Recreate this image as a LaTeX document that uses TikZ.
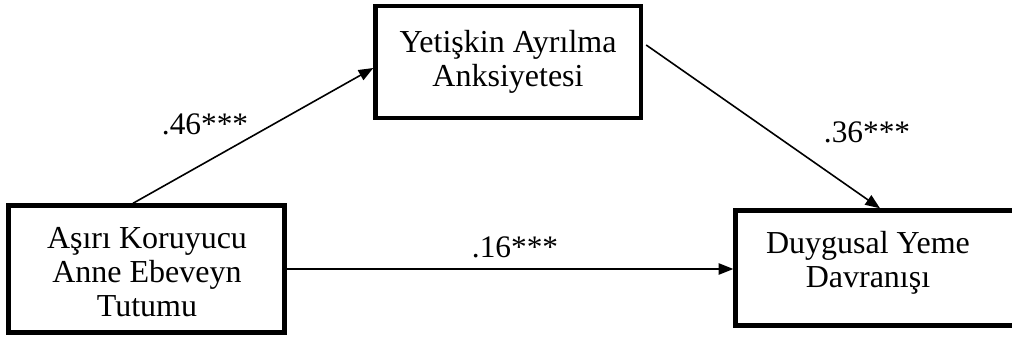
\documentclass[tikz,border=0pt]{standalone}
\usepackage{fontspec}
\setmainfont{Liberation Serif}
\usetikzlibrary{arrows.meta,calc}
\begin{document}
\begin{tikzpicture}[x=0.75pt,y=-0.75pt,
  box/.style={draw=black,line width=3.3pt,inner sep=0pt},
  txt/.style={inner sep=0pt,align=center,font=\fontsize{24}{25.5}\selectfont},
  lab/.style={inner sep=0pt,font=\fontsize{23.5}{25.5}\selectfont},
  conn/.style={line width=1.2pt,-{Triangle[length=11pt,width=8.5pt]}}]
\useasboundingbox (0,0) rectangle (1012,338);
% boxes
\node[box,minimum width=207pt,minimum height=95.25pt] (L) at (146.5,269) {};
\node[box,minimum width=199.1pt,minimum height=84pt] (T) at (508.25,62) {};
\node[box,minimum width=213pt,minimum height=86.25pt] (R) at (877.5,268) {};
% texts
\node[txt,anchor=north] (Ltxt) at (147,227) {Aşırı Koruyucu\\Anne Ebeveyn\\Tutumu};
\node[txt,anchor=north] (Ttxt) at (508,30) {Yetişkin Ayrılma\\Anksiyetesi};
\node[txt,anchor=north] (Rtxt) at (868,231) {Duygusal Yeme\\Davranışı};
% connectors
\draw[conn] ($(L.north)+(-13.5,0)$) -- ($(T.west)+(0,6)$);
\draw[conn] ($(T.east)+(3,-17)$) -- ($(R.north)+(2.5,0)$);
\draw[conn] (L.east) -- (L.east -| R.west);
% labels
\node[lab,anchor=base] (l1) at (205,135) {.46***};
\node[lab,anchor=base] (l2) at (867,143) {.36***};
\node[lab,anchor=base] (l3) at (515,257) {.16***};
\end{tikzpicture}
\end{document}
